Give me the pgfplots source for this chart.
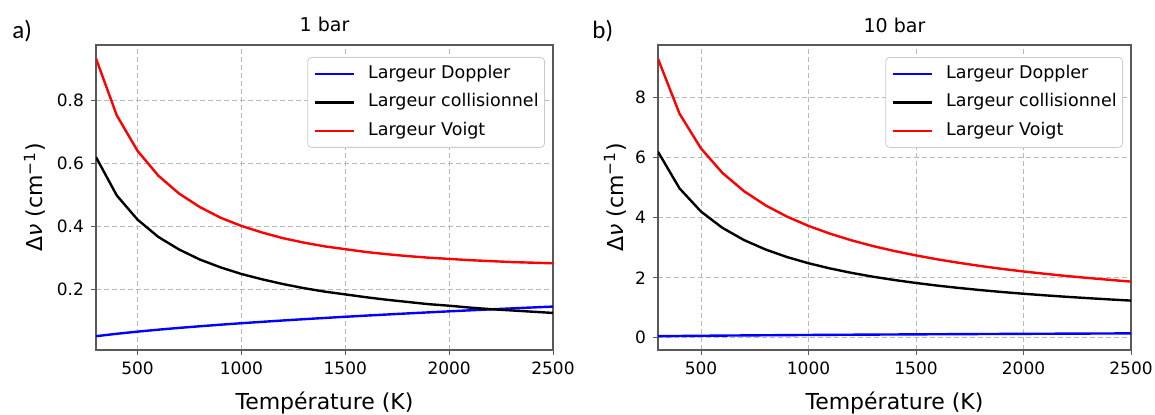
\documentclass[border=0pt]{standalone}
\usepackage{fontspec}
\setmainfont{DejaVu Sans}
\newfontfamily\calibri{Carlito}
\usepackage{pgfplots}
\usepackage{pgfplotstable}
\pgfplotsset{compat=1.18}

\pgfplotstableread{
T dop col1 v1 col10 v10
300 0.0500 0.620 0.934 6.200 9.300
400 0.0577 0.498 0.753 4.980 7.471
500 0.0645 0.421 0.640 4.206 6.310
600 0.0707 0.366 0.561 3.661 5.493
700 0.0764 0.326 0.504 3.256 4.886
800 0.0816 0.294 0.461 2.942 4.415
900 0.0866 0.269 0.427 2.690 4.038
1000 0.0913 0.248 0.401 2.483 3.728
1100 0.0957 0.231 0.380 2.310 3.469
1200 0.1000 0.216 0.362 2.162 3.247
1300 0.1041 0.203 0.348 2.034 3.056
1400 0.1080 0.192 0.336 1.923 2.890
1500 0.1118 0.183 0.327 1.825 2.744
1600 0.1155 0.174 0.318 1.737 2.613
1700 0.1190 0.166 0.311 1.659 2.497
1800 0.1225 0.159 0.305 1.588 2.391
1900 0.1258 0.152 0.300 1.524 2.295
2000 0.1291 0.147 0.296 1.466 2.209
2100 0.1323 0.141 0.292 1.413 2.131
2200 0.1354 0.136 0.289 1.364 2.058
2300 0.1384 0.132 0.286 1.319 1.992
2400 0.1414 0.128 0.284 1.277 1.930
2500 0.1443 0.124 0.282 1.237 1.871
}\data

\pgfplotsset{
  panel/.style={
    scale only axis,
    height=152.5pt,
    xmin=300, xmax=2500,
    xtick={500,1000,1500,2000,2500},
    axis line style={black!65, line width=0.6pt},
    tick style={black!65, line width=0.5pt},
    tick align=outside,
    major tick length=2.5pt,
    xtick pos=bottom, ytick pos=left,
    grid=major,
    major grid style={gray!55, dash pattern=on 2.5pt off 1.5pt, line width=0.5pt},
    ticklabel style={font=\fontsize{8.5}{10}\selectfont},
    /pgf/number format/assume math mode=true,
    /pgf/number format/1000 sep={},
    xlabel={Température (K)},
    xlabel style={font=\fontsize{11}{13}\selectfont, at={(axis description cs:0.5,0)}, anchor=base, yshift=-29.5pt},
    ylabel={Δ\textit{ν} (cm\textsuperscript{−1})},
    ylabel style={font=\fontsize{11}{13}\selectfont, anchor=base},
    every axis title shift=0pt,
    title style={font=\fontsize{9.5}{11}\selectfont, at={(axis description cs:0.5,1)}, anchor=base, yshift=6.5pt},
    legend style={
      at={(rel axis cs:1,1)}, anchor=north east, xshift=-4pt, yshift=-6pt,
      draw=black!20, rounded corners=2pt, fill=white,
      font=\fontsize{8.75}{10.5}\selectfont,
      inner xsep=3pt, inner ysep=3pt,
      row sep=3.75pt, column sep=6.5pt,
      nodes={inner xsep=0pt, inner ysep=1pt, text height=6.5pt, text depth=2pt},
      cells={anchor=west},
    },
    legend image code/.code={\draw[#1, line width=1.2pt] (0pt,0pt) -- (19.5pt,0pt);},
  },
  curve/.style={line width=1.2pt, line join=round},
}

\begin{document}
\begin{tikzpicture}
\useasboundingbox (0pt,0pt) rectangle (577.5pt,207pt);

\node[anchor=base west, font=\calibri\fontsize{12.5}{14}\selectfont, inner sep=0pt] at (6pt,188pt) {a)};
\node[anchor=base west, font=\calibri\fontsize{12.5}{14}\selectfont, inner sep=0pt] at (296pt,188pt) {b)};

\begin{axis}[panel,
  at={(48pt,32pt)}, anchor=south west, width=228.5pt,
  ymin=0.006, ymax=0.977,
  ytick={0.2,0.4,0.6,0.8},
  yticklabel style={/pgf/number format/fixed, /pgf/number format/precision=1, /pgf/number format/fixed zerofill},
  ylabel style={at={(axis description cs:-0.116,0.5)}},
  title={1 bar},
]
\addplot[curve, color={rgb,255:red,0;green,0;blue,255}] table[x=T, y=dop] {\data};
\addlegendentry{Largeur Doppler}
\addplot[curve, black] table[x=T, y=col1] {\data};
\addlegendentry{Largeur collisionnel}
\addplot[curve, color={rgb,255:red,255;green,0;blue,0}] table[x=T, y=v1] {\data};
\addlegendentry{Largeur Voigt}
\end{axis}

\begin{axis}[panel,
  at={(329pt,32pt)}, anchor=south west, width=236.5pt,
  ymin=-0.41, ymax=9.76,
  ytick={0,2,4,6,8},
  ylabel style={at={(axis description cs:-0.074,0.5)}},
  title={10 bar},
]
\addplot[curve, color={rgb,255:red,0;green,0;blue,255}] table[x=T, y=dop] {\data};
\addlegendentry{Largeur Doppler}
\addplot[curve, black] table[x=T, y=col10] {\data};
\addlegendentry{Largeur collisionnel}
\addplot[curve, color={rgb,255:red,255;green,0;blue,0}] table[x=T, y=v10] {\data};
\addlegendentry{Largeur Voigt}
\end{axis}
\end{tikzpicture}
\end{document}
